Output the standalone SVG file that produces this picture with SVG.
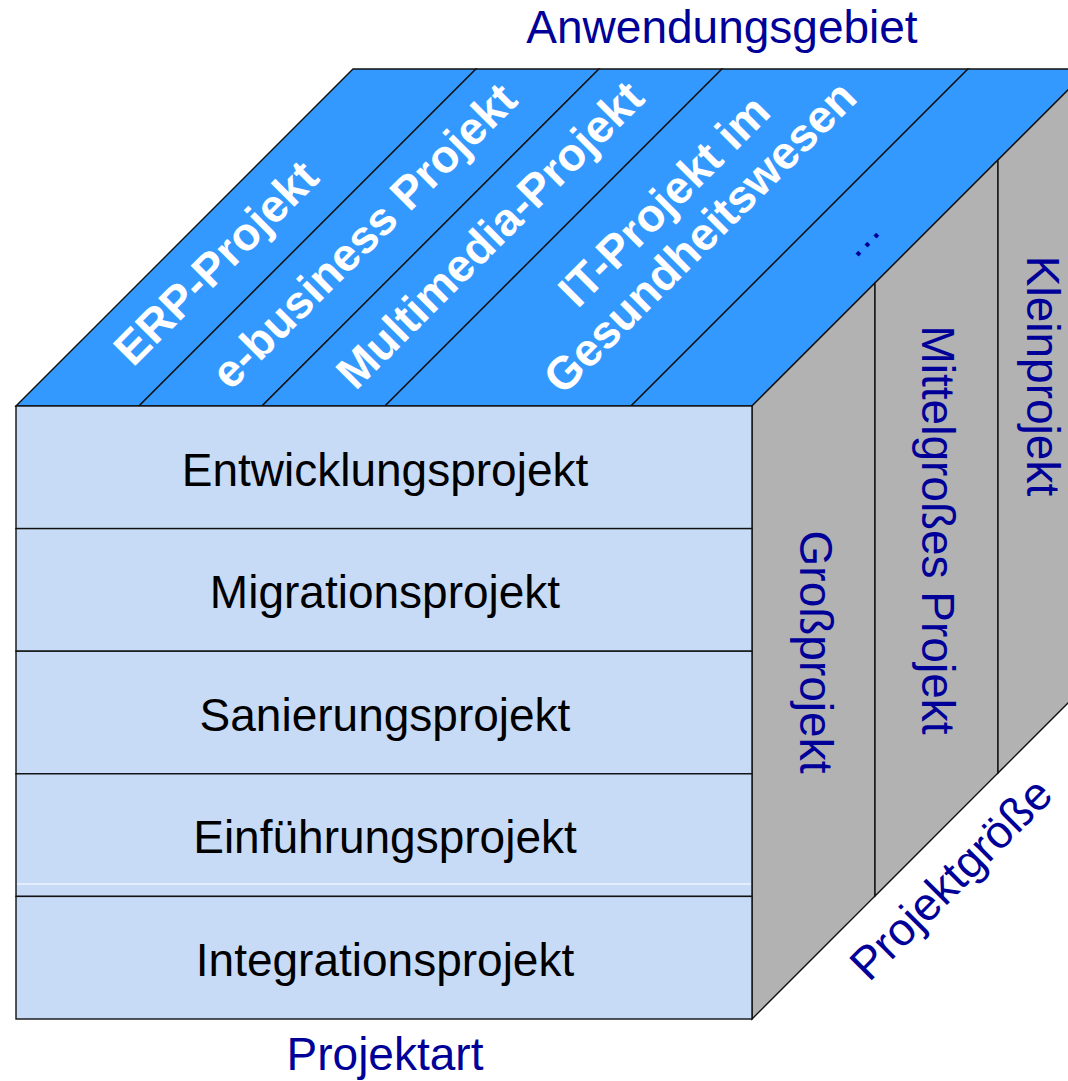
<svg xmlns="http://www.w3.org/2000/svg" width="1068" height="1081" viewBox="0 0 1068 1081">
  <style>
    .edge { stroke: #111; stroke-width: 1.4; stroke-linejoin: miter; }
    .front { fill: #C7DBF7; }
    .top { fill: #3399FF; }
    .side { fill: #B2B2B2; }
    text { font-family: "Liberation Sans", Arial, sans-serif; font-size: 46px; }
    .lbl { fill: #000; text-anchor: middle; }
    .axis { fill: #000099; text-anchor: middle; }
    .topLbl { fill: #fff; font-weight: bold; text-anchor: middle; }
  </style>

  <rect width="1068" height="1081" fill="#fff"/>

  <!-- top face: application areas -->
  <g id="area-erp">
    <polygon class="top edge" points="16,406 353,69 476,69 139,406"/>
    <text class="topLbl" transform="translate(227,274) rotate(-45)">ERP-Projekt</text>
  </g>
  <g id="area-ebusiness">
    <polygon class="top edge" points="139,406 476,69 599,69 262,406"/>
    <text class="topLbl" transform="translate(375,247) rotate(-45)">e-business Projekt</text>
  </g>
  <g id="area-multimedia">
    <polygon class="top edge" points="262,406 599,69 722,69 385,406"/>
    <text class="topLbl" transform="translate(501,246) rotate(-45)">Multimedia-Projekt</text>
  </g>
  <g id="area-health">
    <polygon class="top edge" points="385,406 722,69 968,69 631,406"/>
    <text class="topLbl" transform="translate(675,212) rotate(-45)">IT-Projekt im</text>
    <text class="topLbl" transform="translate(711,248) rotate(-45)">Gesundheitswesen</text>
  </g>
  <g id="area-more">
    <polygon class="top edge" points="631,406 968,69 1089,69 752,406"/>
    <text class="axis" style="font-size:40px" transform="translate(869,246) rotate(-45)">…</text>
  </g>

  <!-- right face: project size -->
  <g id="size-large">
    <polygon class="side edge" points="752,406 875,283 875,896 752,1019"/>
    <text class="axis" transform="translate(800,652) rotate(90)">Großprojekt</text>
  </g>
  <g id="size-medium">
    <polygon class="side edge" points="875,283 998,160 998,773 875,896"/>
    <text class="axis" transform="translate(922,530) rotate(90)">Mittelgroßes Projekt</text>
  </g>
  <g id="size-small">
    <polygon class="side edge" points="998,160 1089,69 1089,682 998,773"/>
    <text class="axis" transform="translate(1027,376) rotate(90)">Kleinprojekt</text>
  </g>

  <!-- front face: project types -->
  <g id="type-entwicklung">
    <rect class="front edge" x="16" y="406" width="736" height="122.6"/>
    <text class="lbl" x="385" y="486">Entwicklungsprojekt</text>
  </g>
  <g id="type-migration">
    <rect class="front edge" x="16" y="528.6" width="736" height="122.6"/>
    <text class="lbl" x="385" y="608">Migrationsprojekt</text>
  </g>
  <g id="type-sanierung">
    <rect class="front edge" x="16" y="651.2" width="736" height="122.6"/>
    <text class="lbl" x="385" y="731">Sanierungsprojekt</text>
  </g>
  <g id="type-einfuehrung">
    <rect class="front edge" x="16" y="773.8" width="736" height="122.6"/>
    <line x1="17" y1="884" x2="751" y2="884" stroke="#fff" stroke-width="1"/>
    <text class="lbl" x="385" y="853">Einführungsprojekt</text>
  </g>
  <g id="type-integration">
    <rect class="front edge" x="16" y="896.4" width="736" height="122.6"/>
    <text class="lbl" x="385" y="976">Integrationsprojekt</text>
  </g>

  <!-- axis captions -->
  <g id="axis-labels">
    <text class="axis" x="722" y="43">Anwendungsgebiet</text>
    <text class="axis" x="385" y="1070">Projektart</text>
    <text class="axis" transform="translate(962,890) rotate(-45)">Projektgröße</text>
  </g>

  <g id="connectors"/>
</svg>
